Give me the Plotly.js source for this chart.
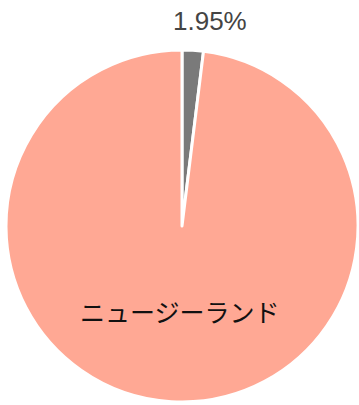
<!DOCTYPE html>
<html>
<head>
<meta charset="utf-8">
<script src="https://cdn.plot.ly/plotly-3.0.1.min.js"></script>
<style>html,body{margin:0;padding:0;background:#fff;}#chart{width:359px;height:405px;}</style>
</head>
<body>
<div id="chart"></div>
<script>
const labels = ['その他', 'ニュージーランド'];
const values = [1.95, 98.05];
const colors = ['#7A7A7A', '#FFA894'];
const percentText = values[0].toFixed(2) + '%';

Plotly.newPlot('chart', [{
  type: 'pie',
  labels: labels,
  values: values,
  textinfo: 'none',
  marker: {colors: colors, line: {color: '#ffffff', width: 3}},
  sort: false,
  direction: 'clockwise',
  rotation: 0,
  domain: {x: [6/359, 358/359], y: [3/405, 355/405]},
  hoverinfo: 'none'
}], {
  width: 359, height: 405,
  margin: {l: 0, r: 0, t: 0, b: 0},
  showlegend: false,
  paper_bgcolor: '#ffffff',
  annotations: [{
    text: labels[1], xref: 'paper', yref: 'paper',
    x: 180/359, y: 1 - 311/405, xanchor: 'center', yanchor: 'middle',
    showarrow: false,
    font: {color: '#111111', size: 25, family: 'Noto Sans CJK JP, sans-serif'}
  }, {
    text: percentText, xref: 'paper', yref: 'paper',
    x: 210/359, y: 1 - 21/405, xanchor: 'center', yanchor: 'middle',
    showarrow: false,
    font: {color: '#444444', size: 26, family: 'Liberation Sans, Arial, sans-serif'}
  }]
}, {staticPlot: true});
</script>
</body>
</html>
